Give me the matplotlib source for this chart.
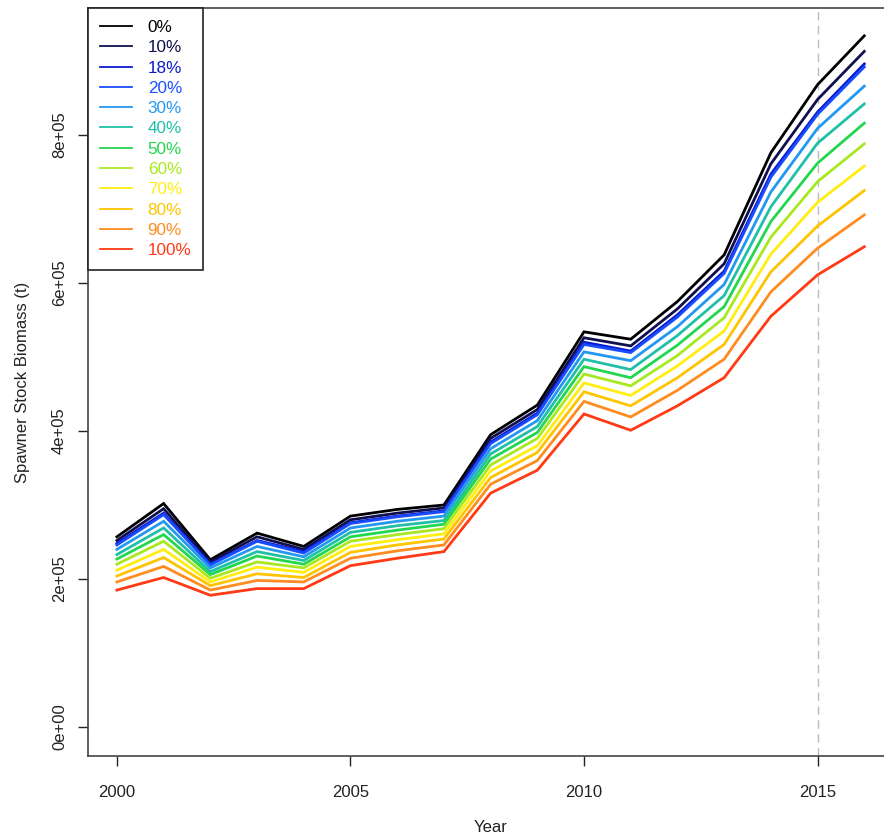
import matplotlib
matplotlib.use("Agg")
import matplotlib.pyplot as plt

plt.rcParams['font.family'] = ['Liberation Sans', 'DejaVu Sans']

years = list(range(2000, 2017))
labels = ["0%", "10%", "18%", "20%", "30%", "40%", "50%", "60%", "70%", "80%", "90%", "100%"]
colors = ["#000000", "#101050", "#0a1ccc", "#1a4cff", "#2398f0", "#20c0a8",
          "#22d650", "#a8e820", "#ffee10", "#ffc400", "#ff8c20", "#ff3a14"]

# Spawner stock biomass, thousand t
s0 = [257, 302, 226, 262, 244, 285, 294, 300, 395, 435, 534, 524, 575, 638, 776, 868, 934]
s10 = [252, 295, 223, 257, 240, 280, 289, 296, 390, 429, 526, 515, 565, 626, 761, 848, 913]
s18 = [248, 289, 220, 252, 237, 276, 285, 292, 385, 424, 520, 508, 557, 616, 747, 831, 896]
s20 = [246, 287, 219, 251, 235, 275, 284, 291, 383, 422, 517, 506, 554, 613, 743, 828, 892]
s30 = [240, 278, 215, 244, 230, 269, 278, 285, 376, 414, 507, 495, 541, 598, 723, 809, 866]
s40 = [233, 269, 210, 237, 225, 263, 272, 279, 369, 406, 497, 483, 529, 583, 703, 789, 842]
s50 = [227, 260, 206, 231, 220, 257, 266, 274, 362, 398, 487, 472, 516, 568, 683, 762, 816]
s60 = [220, 251, 201, 223, 215, 251, 260, 268, 354, 390, 477, 461, 502, 553, 662, 737, 788]
s70 = [212, 240, 196, 216, 209, 244, 253, 261, 346, 380, 465, 448, 488, 535, 639, 709, 758]
s80 = [204, 229, 191, 207, 202, 236, 246, 254, 337, 371, 453, 434, 472, 517, 615, 677, 725]
s90 = [196, 217, 185, 198, 196, 228, 238, 246, 328, 360, 440, 419, 455, 497, 588, 647, 692]
s100 = [185, 202, 178, 187, 187, 218, 228, 237, 316, 347, 423, 401, 434, 472, 555, 611, 649]
series = [s0, s10, s18, s20, s30, s40, s50, s60, s70, s80, s90, s100]

yticks = [0, 200000, 400000, 600000, 800000]
ytick_labels = ["0e+00", "2e+05", "4e+05", "6e+05", "8e+05"]
xticks = [2000, 2005, 2010, 2015]

fig = plt.figure(figsize=(8.84, 8.36), dpi=100)
ax = fig.add_axes([0.0995, 0.0957, 0.912, 0.8947])

for s, c, lab in zip(series, colors, labels):
    ax.plot(years, [v * 1000 for v in s], color=c, lw=2.0, label=lab, solid_joinstyle='miter')

ax.axvline(2015, color="#bbbbbb", lw=1.0, ls=(0, (6, 4)), zorder=0)

ax.set_xlim(1999.38, 2016.64)
ax.set_ylim(-39200, 971600)
ax.set_xticks(xticks)
ax.set_xticklabels([str(x) for x in xticks])
ax.set_yticks(yticks)
ax.set_yticklabels(ytick_labels, rotation=90, va='center')
ax.tick_params(axis='both', direction='out', length=7, width=1, labelsize=12, colors='#222222')
ax.tick_params(axis='x', pad=14)
ax.tick_params(axis='y', pad=8)

for sp in ['left', 'bottom', 'top']:
    ax.spines[sp].set_color('#444444')
    ax.spines[sp].set_linewidth(1.2)
ax.spines['right'].set_visible(False)

ax.set_xlabel("Year", fontsize=12, color='#222222', labelpad=14)
ax.set_ylabel("Spawner Stock Biomass (t)", fontsize=12, color='#222222', labelpad=16)

leg = ax.legend(loc='upper left', bbox_to_anchor=(0, 1), borderaxespad=0,
                fancybox=False, framealpha=1, edgecolor='#222222', fontsize=12.3,
                handlelength=1.9, handletextpad=0.9, labelspacing=0.31,
                borderpad=0.7)
leg.get_frame().set_linewidth(1.2)
for txt, c in zip(leg.get_texts(), colors):
    txt.set_color(c)
for ln in leg.get_lines():
    ln.set_linewidth(1.3)

fig.savefig("out.png", dpi=100)
